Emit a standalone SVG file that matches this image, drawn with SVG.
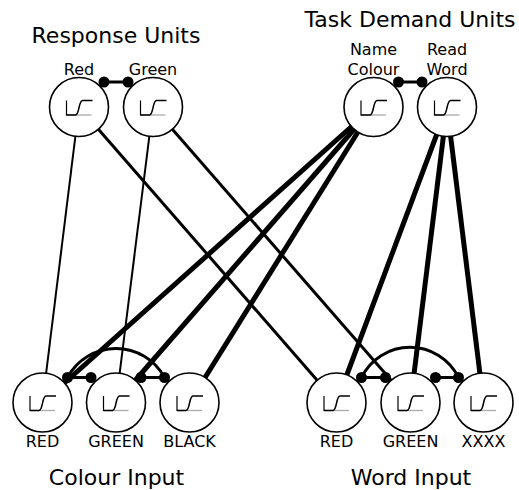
<svg xmlns="http://www.w3.org/2000/svg" xmlns:xlink="http://www.w3.org/1999/xlink" width="519" height="490" viewBox="0 0 519 490">
<style>
text{font-family:"DejaVu Sans","Noto Sans",sans-serif;fill:#000;text-anchor:middle}
.title{font-size:22px}
.lab{font-size:16px}
.unit{fill:#fff;stroke:#000;stroke-width:1.6}
.thin{stroke:#000;stroke-width:2;fill:none}
.med{stroke:#000;stroke-width:3;fill:none}
.thick{stroke:#000;stroke-width:5;fill:none}
.inh{stroke:#000;stroke-width:3;fill:none}
.dot{fill:#000}
</style>
<defs>
<g id="sig">
<line x1="-12" y1="8" x2="12.5" y2="8" stroke="#aaa" stroke-width="1.3"/>
<line x1="-12.5" y1="-6.5" x2="-12.5" y2="8.6" stroke="#000" stroke-width="1.2"/>
<path d="M-12.5,8 L-3.5,8 C0.5,8 -0.5,-6.5 3.5,-6.5 L13.5,-6.5" stroke="#000" stroke-width="1.5" fill="none"/>
</g>
</defs>
<rect width="519" height="490" fill="#fff"/>
<g id="connectors">
<line class="thin" x1="79" y1="107" x2="42.5" y2="402.5"/>
<line class="thin" x1="153" y1="107" x2="116" y2="402.5"/>
<line class="med" x1="79" y1="107" x2="336.5" y2="402.5"/>
<line class="med" x1="153" y1="107" x2="410.5" y2="402.5"/>
<line class="thick" x1="373.5" y1="107" x2="42.5" y2="402.5"/>
<line class="thick" x1="373.5" y1="107" x2="116" y2="402.5"/>
<line class="thick" x1="373.5" y1="107" x2="189.5" y2="402.5"/>
<line class="thick" x1="447" y1="107" x2="336.5" y2="402.5"/>
<line class="thick" x1="447" y1="107" x2="410.5" y2="402.5"/>
<line class="thick" x1="447" y1="107" x2="483.5" y2="402.5"/>
</g>
<g id="resp-red"><circle class="unit" cx="79" cy="107" r="29.5"/><use xlink:href="#sig" x="79" y="107"/><text class="lab" x="79" y="75">Red</text></g>
<g id="resp-green"><circle class="unit" cx="153" cy="107" r="29.5"/><use xlink:href="#sig" x="153" y="107"/><text class="lab" x="153" y="75">Green</text></g>
<g id="task-colour"><circle class="unit" cx="373.5" cy="107" r="29.5"/><use xlink:href="#sig" x="373.5" y="107"/><text class="lab" x="373.5" y="55">Name</text><text class="lab" x="373.5" y="75">Colour</text></g>
<g id="task-word"><circle class="unit" cx="447" cy="107" r="29.5"/><use xlink:href="#sig" x="447" y="107"/><text class="lab" x="447" y="55">Read</text><text class="lab" x="447" y="75">Word</text></g>
<g id="col-red"><circle class="unit" cx="42.5" cy="402.5" r="29.5"/><use xlink:href="#sig" x="42.5" y="402.5"/><text class="lab" x="42.5" y="447">RED</text></g>
<g id="col-green"><circle class="unit" cx="116" cy="402.5" r="29.5"/><use xlink:href="#sig" x="116" y="402.5"/><text class="lab" x="116" y="447">GREEN</text></g>
<g id="col-black"><circle class="unit" cx="189.5" cy="402.5" r="29.5"/><use xlink:href="#sig" x="189.5" y="402.5"/><text class="lab" x="189.5" y="447">BLACK</text></g>
<g id="word-red"><circle class="unit" cx="336.5" cy="402.5" r="29.5"/><use xlink:href="#sig" x="336.5" y="402.5"/><text class="lab" x="336.5" y="447">RED</text></g>
<g id="word-green"><circle class="unit" cx="410.5" cy="402.5" r="29.5"/><use xlink:href="#sig" x="410.5" y="402.5"/><text class="lab" x="410.5" y="447">GREEN</text></g>
<g id="word-xxxx"><circle class="unit" cx="483.5" cy="402.5" r="29.5"/><use xlink:href="#sig" x="483.5" y="402.5"/><text class="lab" x="483.5" y="447">XXXX</text></g>
<g id="inhibitory">
<line class="inh" x1="104" y1="82" x2="128" y2="82"/>
<circle class="dot" cx="104" cy="82" r="5.5"/><circle class="dot" cx="128" cy="82" r="5.5"/>
<line class="inh" x1="398.5" y1="82" x2="422" y2="82"/>
<circle class="dot" cx="398.5" cy="82" r="5.5"/><circle class="dot" cx="422" cy="82" r="5.5"/>
<line class="inh" x1="67.5" y1="377.5" x2="91" y2="377.5"/>
<line class="inh" x1="141" y1="377.5" x2="164.5" y2="377.5"/>
<path class="inh" d="M67.5,377.5 A55 55 0 0 1 164.5,377.5"/>
<circle class="dot" cx="67.5" cy="377.5" r="5.5"/><circle class="dot" cx="91" cy="377.5" r="5.5"/>
<circle class="dot" cx="141" cy="377.5" r="5.5"/><circle class="dot" cx="164.5" cy="377.5" r="5.5"/>
<line class="inh" x1="361.5" y1="377.5" x2="385.5" y2="377.5"/>
<line class="inh" x1="435.5" y1="377.5" x2="458.5" y2="377.5"/>
<path class="inh" d="M361.5,377.5 A54 54 0 0 1 458.5,377.5"/>
<circle class="dot" cx="361.5" cy="377.5" r="5.5"/><circle class="dot" cx="385.5" cy="377.5" r="5.5"/>
<circle class="dot" cx="435.5" cy="377.5" r="5.5"/><circle class="dot" cx="458.5" cy="377.5" r="5.5"/>
</g>
<g id="titles">
<text class="title" x="116" y="43">Response Units</text>
<text class="title" x="410" y="27">Task Demand Units</text>
<text class="title" x="116.5" y="485">Colour Input</text>
<text class="title" x="411" y="485">Word Input</text>
</g>
</svg>
